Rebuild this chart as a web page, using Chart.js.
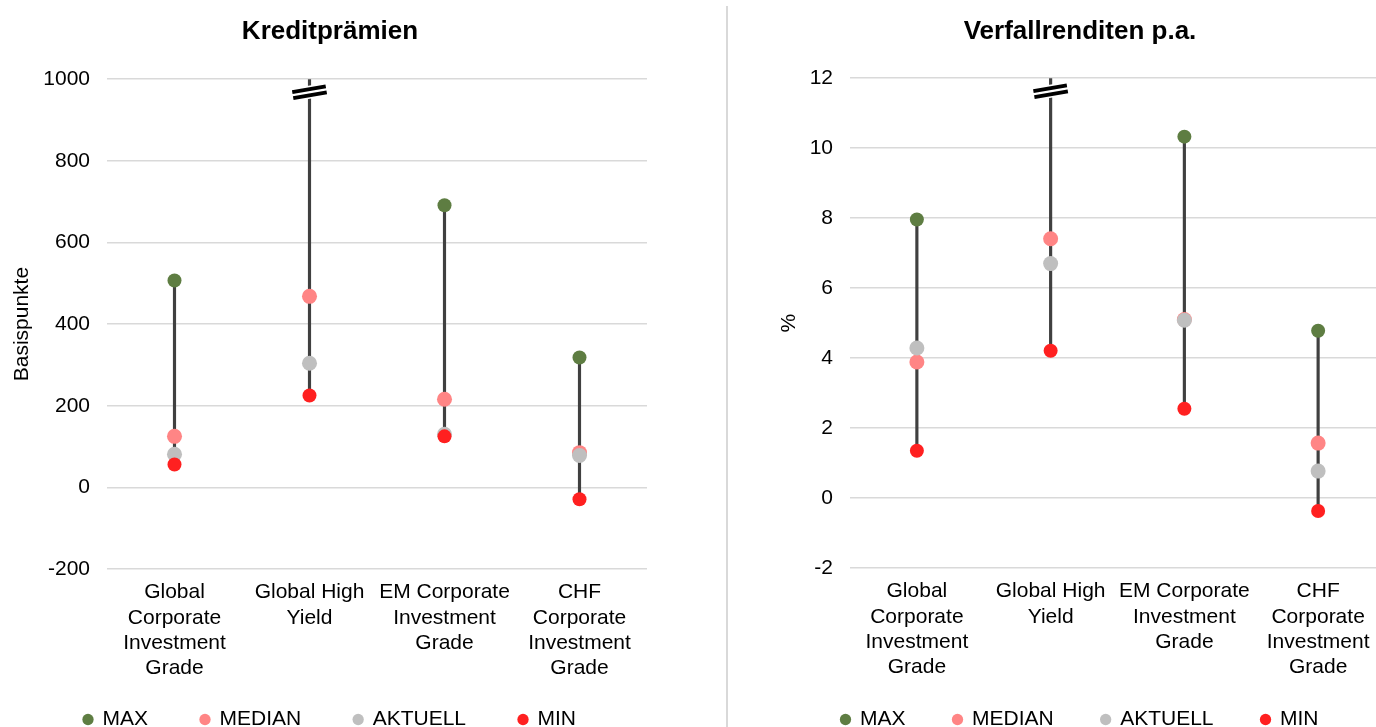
<!DOCTYPE html>
<html>
<head>
<meta charset="utf-8">
<script src="https://cdn.jsdelivr.net/npm/chart.js@4/dist/chart.umd.min.js"></script>
<style>
  html, body { margin: 0; padding: 0; background: #ffffff; overflow: hidden; width: 1376px; height: 727px; }
  #wrapL { position: absolute; left: 0; top: 0; width: 660px; height: 740px; }
  #wrapR { position: absolute; left: 727px; top: 0; width: 706px; height: 740px; }
  #sep { position: absolute; left: 726px; top: 6px; width: 2px; height: 721px; background: #d9d9d9; z-index: 5; }
</style>
</head>
<body>
<div id="wrapL"><canvas id="cL" width="660" height="740"></canvas></div>
<div id="sep"></div>
<div id="wrapR"><canvas id="cR" width="706" height="740"></canvas></div>
<script>
// ---- data ----
const categories = [
  ["Global", "Corporate", "Investment", "Grade"],
  ["Global High", "Yield"],
  ["EM Corporate", "Investment", "Grade"],
  ["CHF", "Corporate", "Investment", "Grade"]
];
const seriesNames = ["MAX", "MEDIAN", "AKTUELL", "MIN"];

// Kreditprämien (Basispunkte)
const spreadMax     = [507, 1900, 691, 318];
const spreadMedian  = [125, 468, 216, 85];
const spreadCurrent = [81, 304, 130, 78];
const spreadMin     = [56, 225, 125, -29];
const spreadTicks   = [-200, 0, 200, 400, 600, 800, 1000];

// Verfallrenditen p.a. (%)
const yieldMax     = [7.96, 20.0, 10.33, 4.78];
const yieldMedian  = [3.89, 7.41, 5.10, 1.57];
const yieldCurrent = [4.29, 6.70, 5.08, 0.77];
const yieldMin     = [1.35, 4.21, 2.55, -0.37];
const yieldTicks   = [-2, 0, 2, 4, 6, 8, 10, 12];

// ---- styling ----
const FONT = "'Liberation Sans', Arial, sans-serif";
const colors = { MAX: "#5e7d42", MEDIAN: "#ff8585", AKTUELL: "#bfbfbf", MIN: "#ff2020" };
const radii  = { MAX: 7, MEDIAN: 7.5, AKTUELL: 7.5, MIN: 7 };
const orders = { MAX: 4, MEDIAN: 3, AKTUELL: 2, MIN: 1 };

const breakPlugin = {
  id: 'axisBreak',
  afterDatasetsDraw(chart, args, opts) {
    const ctx = chart.ctx;
    const x = chart.scales.x.getPixelForValue(opts.index);
    const y = chart.chartArea.top + 13;
    ctx.save();
    ctx.translate(x, y);
    ctx.rotate(-0.17);
    ctx.fillStyle = "#ffffff";
    ctx.fillRect(-18, -6.5, 36, 13);
    ctx.strokeStyle = "#000000";
    ctx.lineWidth = 3.8;
    ctx.beginPath();
    ctx.moveTo(-17, -3); ctx.lineTo(17, -3);
    ctx.moveTo(-17, 3); ctx.lineTo(17, 3);
    ctx.stroke();
    ctx.restore();
  }
};

function makeChart(canvasId, cfg) {
  const seriesData = { MAX: cfg.max, MEDIAN: cfg.median, AKTUELL: cfg.current, MIN: cfg.min };
  const datasets = [];
  seriesNames.forEach(name => {
    datasets.push({
      type: 'line',
      label: name,
      data: seriesData[name],
      showLine: false,
      backgroundColor: colors[name],
      borderColor: colors[name],
      borderWidth: 0,
      pointBackgroundColor: colors[name],
      pointBorderWidth: 0,
      pointRadius: radii[name],
      pointHoverRadius: radii[name],
      pointStyle: 'circle',
      order: orders[name]
    });
  });
  datasets.push({
    type: 'bar',
    label: 'range',
    data: cfg.min.map((v, i) => [v, cfg.max[i]]),
    backgroundColor: "#404040",
    borderWidth: 0,
    barThickness: 2.5,
    order: 10
  });

  return new Chart(document.getElementById(canvasId), {
    type: 'bar',
    data: { labels: categories, datasets },
    plugins: [breakPlugin],
    options: {
      responsive: false,
      animation: false,
      layout: { padding: 0 },
      plugins: {
        axisBreak: { index: 1 },
        tooltip: { enabled: false },
        title: {
          display: true,
          text: cfg.title,
          color: "#000000",
          font: { family: FONT, size: 26, weight: 'bold', lineHeight: 1.2 },
          padding: { top: 16, bottom: cfg.titlePadBottom }
        },
        legend: {
          position: 'bottom',
          labels: {
            filter: item => item.text !== 'range',
            sort: (a, b) => a.datasetIndex - b.datasetIndex,
            usePointStyle: true,
            boxWidth: 8,
            boxHeight: 8,
            padding: cfg.legendPad,
            color: "#000000",
            font: { family: FONT, size: 21 }
          }
        }
      },
      scales: {
        x: {
          grid: { display: false },
          border: { display: false },
          ticks: {
            color: "#000000",
            font: { family: FONT, size: 21, lineHeight: 1.2 },
            padding: 3,
            maxRotation: 0,
            autoSkip: false
          },
          afterFit(scale) {
            scale.height = cfg.xHeight;
            scale._computeLabelArea = () => undefined;
          }
        },
        y: {
          min: cfg.ticks[0],
          max: cfg.ticks[cfg.ticks.length - 1],
          afterBuildTicks(scale) { scale.ticks = cfg.ticks.map(v => ({ value: v })); },
          grid: { color: "#d9d9d9", lineWidth: 1.5, drawTicks: false },
          border: { display: false },
          ticks: {
            color: "#000000",
            font: { family: FONT, size: 21 },
            padding: 17,
            callback: v => String(v)
          },
          title: {
            display: true,
            text: cfg.axisTitle,
            color: "#000000",
            font: { family: FONT, size: 21, lineHeight: 1.2 },
            padding: { top: cfg.axisTitlePad, bottom: 0 }
          },
          afterFit(scale) { scale.width = cfg.yWidth; }
        },
        yR: {
          position: 'right',
          display: true,
          grid: { display: false },
          border: { display: false },
          ticks: { display: false },
          afterFit(scale) { scale.width = cfg.rightPad; }
        }
      }
    }
  });
}

makeChart('cL', {
  title: 'Kreditprämien', axisTitle: 'Basispunkte',
  max: spreadMax, median: spreadMedian, current: spreadCurrent, min: spreadMin,
  ticks: spreadTicks, yWidth: 107, rightPad: 13, axisTitlePad: 10,
  titlePadBottom: 32, xHeight: 87, legendPad: 53
});
makeChart('cR', {
  title: 'Verfallrenditen p.a.', axisTitle: '%',
  max: yieldMax, median: yieldMedian, current: yieldCurrent, min: yieldMin,
  ticks: yieldTicks, yWidth: 123, rightPad: 48, axisTitlePad: 50,
  titlePadBottom: 31, xHeight: 93, legendPad: 48
});
</script>
</body>
</html>
